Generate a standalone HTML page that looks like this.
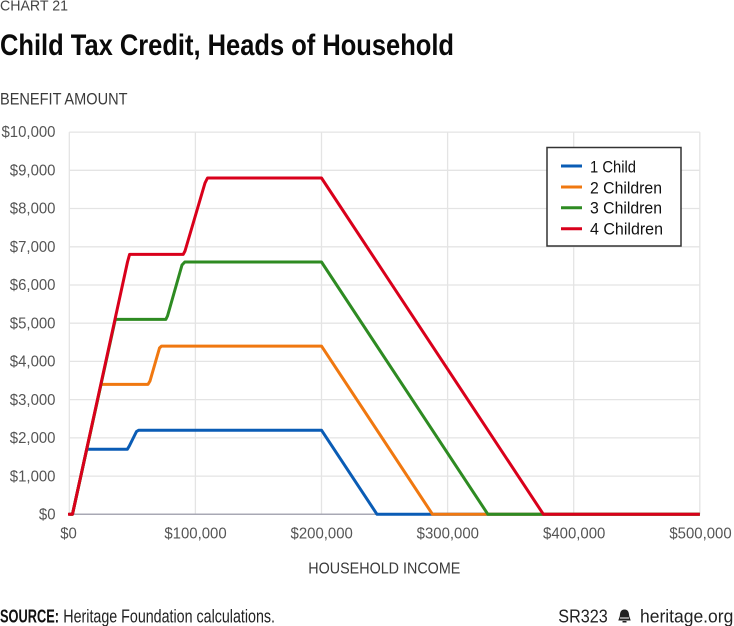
<!DOCTYPE html>
<html><head><meta charset="utf-8"><style>
html,body{margin:0;padding:0;background:#fff;}
svg{display:block;}
text{font-family:"Liberation Sans",sans-serif;}
</style></head><body>
<svg width="734" height="626" viewBox="0 0 734 626" xmlns="http://www.w3.org/2000/svg">
<rect width="734" height="626" fill="#fff"/>
<text x="0" y="10.5" font-size="15" fill="#444" textLength="68" lengthAdjust="spacingAndGlyphs">CHART 21</text>
<text x="0" y="55" font-size="30" font-weight="bold" fill="#0a0a0a" textLength="454" lengthAdjust="spacingAndGlyphs">Child Tax Credit, Heads of Household</text>
<text x="0" y="104.3" font-size="16.5" fill="#3a3a3a" textLength="127.5" lengthAdjust="spacingAndGlyphs">BENEFIT AMOUNT</text>

<!-- gridlines -->
<g stroke="#e4e4e4" stroke-width="1.3" fill="none">
<line x1="69.3" y1="132.1" x2="699.8" y2="132.1"/>
<line x1="69.3" y1="170.3" x2="699.8" y2="170.3"/>
<line x1="69.3" y1="208.5" x2="699.8" y2="208.5"/>
<line x1="69.3" y1="246.8" x2="699.8" y2="246.8"/>
<line x1="69.3" y1="285.0" x2="699.8" y2="285.0"/>
<line x1="69.3" y1="323.2" x2="699.8" y2="323.2"/>
<line x1="69.3" y1="361.4" x2="699.8" y2="361.4"/>
<line x1="69.3" y1="399.6" x2="699.8" y2="399.6"/>
<line x1="69.3" y1="437.9" x2="699.8" y2="437.9"/>
<line x1="69.3" y1="476.1" x2="699.8" y2="476.1"/>
<line x1="69.3" y1="132.1" x2="69.3" y2="514.3"/>
<line x1="195.4" y1="132.1" x2="195.4" y2="514.3"/>
<line x1="321.5" y1="132.1" x2="321.5" y2="514.3"/>
<line x1="447.6" y1="132.1" x2="447.6" y2="514.3"/>
<line x1="573.7" y1="132.1" x2="573.7" y2="514.3"/>
<line x1="699.8" y1="132.1" x2="699.8" y2="514.3"/>
</g>
<line x1="69.3" y1="514.3" x2="699.8" y2="514.3" stroke="#a8a8b4" stroke-width="1.5"/>

<!-- y labels -->
<g font-size="16" fill="#555" text-anchor="end">
<text x="55.5" y="137.2" textLength="54" lengthAdjust="spacingAndGlyphs">$10,000</text>
<text x="55.5" y="175.5" textLength="45.7" lengthAdjust="spacingAndGlyphs">$9,000</text>
<text x="55.5" y="213.7" textLength="45.7" lengthAdjust="spacingAndGlyphs">$8,000</text>
<text x="55.5" y="251.9" textLength="45.7" lengthAdjust="spacingAndGlyphs">$7,000</text>
<text x="55.5" y="290.1" textLength="45.7" lengthAdjust="spacingAndGlyphs">$6,000</text>
<text x="55.5" y="328.4" textLength="45.7" lengthAdjust="spacingAndGlyphs">$5,000</text>
<text x="55.5" y="366.6" textLength="45.7" lengthAdjust="spacingAndGlyphs">$4,000</text>
<text x="55.5" y="404.8" textLength="45.7" lengthAdjust="spacingAndGlyphs">$3,000</text>
<text x="55.5" y="443.0" textLength="45.7" lengthAdjust="spacingAndGlyphs">$2,000</text>
<text x="55.5" y="481.3" textLength="45.7" lengthAdjust="spacingAndGlyphs">$1,000</text>
<text x="55.5" y="519.3" textLength="16.6" lengthAdjust="spacingAndGlyphs">$0</text>
</g>
<!-- x labels -->
<g font-size="16" fill="#555" text-anchor="middle">
<text x="68.5" y="538.5" textLength="16.6" lengthAdjust="spacingAndGlyphs">$0</text>
<text x="195.5" y="538.5" textLength="62.3" lengthAdjust="spacingAndGlyphs">$100,000</text>
<text x="321.7" y="538.5" textLength="62.3" lengthAdjust="spacingAndGlyphs">$200,000</text>
<text x="447.8" y="538.5" textLength="62.3" lengthAdjust="spacingAndGlyphs">$300,000</text>
<text x="574.2" y="538.5" textLength="62.3" lengthAdjust="spacingAndGlyphs">$400,000</text>
<text x="700.5" y="538.5" textLength="62.3" lengthAdjust="spacingAndGlyphs">$500,000</text>
</g>
<text x="308.3" y="573.3" font-size="16" fill="#3a3a3a" textLength="152" lengthAdjust="spacingAndGlyphs">HOUSEHOLD INCOME</text>

<!-- series -->
<g fill="none" stroke-width="3" stroke-linejoin="round" stroke-linecap="butt">
<polyline stroke="#0a5cb5" points="69.3,514.3 72.45,514.3 86.7,449.3 127.3,449.3 129.3,446 136.5,431.5 138.8,430.2 321.5,430.2 377.0,514.3 699.8,514.3"/>
<polyline stroke="#f07810" points="69.3,514.3 72.45,514.3 101.0,384.4 148,384.4 150,381 159.5,348 161.5,346.1 321.5,346.1 432.5,514.3 699.8,514.3"/>
<polyline stroke="#2e8b22" points="69.3,514.3 72.45,514.3 115.3,319.4 165.8,319.4 167.5,316 182,265 184.8,262.0 321.5,262.0 487.9,514.3 699.8,514.3"/>
<polyline stroke="#d9001b" points="68,514.3 72.45,514.3 127.5,262 129.6,254.4 183.2,254.4 185,251 205,183 207.5,178.0 321.5,178.0 543.4,514.3 699.8,514.3"/>
</g>

<!-- legend -->
<rect x="547" y="147.5" width="134" height="98.5" fill="#fff" stroke="#333" stroke-width="1.5"/>
<g stroke-width="3">
<line x1="561" y1="166" x2="582" y2="166" stroke="#0a5cb5"/>
<line x1="561" y1="187" x2="582" y2="187" stroke="#f07810"/>
<line x1="561" y1="207.7" x2="582" y2="207.7" stroke="#2e8b22"/>
<line x1="561" y1="228.7" x2="582" y2="228.7" stroke="#d9001b"/>
</g>
<g font-size="17" fill="#111">
<text x="590" y="172.3" textLength="46" lengthAdjust="spacingAndGlyphs">1 Child</text>
<text x="590" y="193.3" textLength="72" lengthAdjust="spacingAndGlyphs">2 Children</text>
<text x="590" y="213.6" textLength="72" lengthAdjust="spacingAndGlyphs">3 Children</text>
<text x="590" y="234.3" textLength="73" lengthAdjust="spacingAndGlyphs">4 Children</text>
</g>

<!-- footer -->
<text x="0" y="622.7" font-size="18" font-weight="bold" fill="#111" textLength="59" lengthAdjust="spacingAndGlyphs">SOURCE:</text>
<text x="63.3" y="622.7" font-size="18" fill="#222" textLength="211.7" lengthAdjust="spacingAndGlyphs">Heritage Foundation calculations.</text>
<text x="558.3" y="622.7" font-size="18" fill="#222" textLength="49.4" lengthAdjust="spacingAndGlyphs">SR323</text>
<path d="M624.5,609.5 C620.5,609.5 620,613 619.8,616 L618.3,620.5 L630.7,620.5 L629.2,616 C629,613 628.5,609.5 624.5,609.5 Z M622.5,621 L626.5,621 L626.5,622.5 L622.5,622.5 Z" fill="#222"/>
<rect x="620" y="617.5" width="9" height="1" fill="#fff"/>
<text x="640" y="622.7" font-size="18" fill="#222" textLength="93.3" lengthAdjust="spacingAndGlyphs">heritage.org</text>
</svg>
</body></html>
